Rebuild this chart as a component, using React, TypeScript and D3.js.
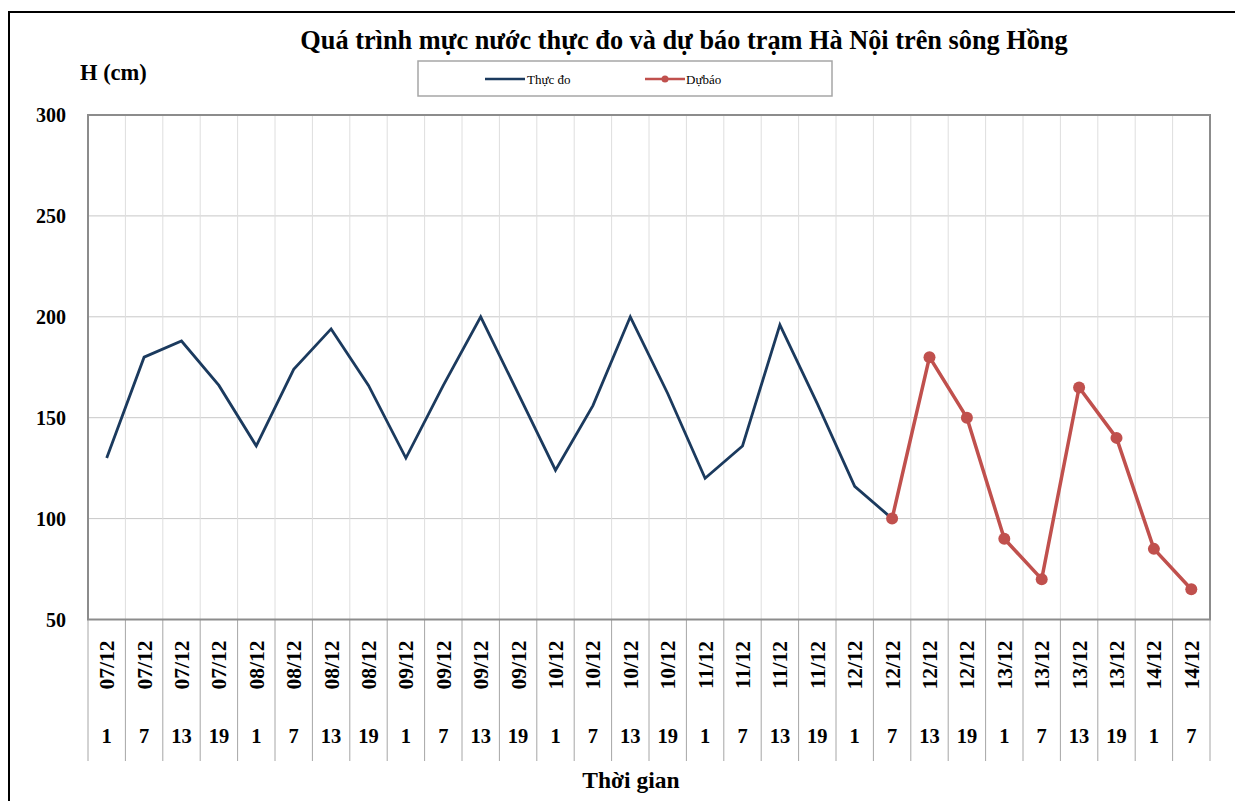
import React from "react";
import * as d3 from "d3";

const days = ["07/12","07/12","07/12","07/12","08/12","08/12","08/12","08/12","09/12","09/12","09/12","09/12","10/12","10/12","10/12","10/12","11/12","11/12","11/12","11/12","12/12","12/12","12/12","12/12","13/12","13/12","13/12","13/12","14/12","14/12"];
const hours = ["1","7","13","19","1","7","13","19","1","7","13","19","1","7","13","19","1","7","13","19","1","7","13","19","1","7","13","19","1","7"];
const observed: (number | null)[] = [130,180,188,166,136,174,194,166,130,166,200,162,124,156,200,162,120,136,196,157,116,100,null,null,null,null,null,null,null,null];
const forecast: (number | null)[] = [null,null,null,null,null,null,null,null,null,null,null,null,null,null,null,null,null,null,null,null,null,100,180,150,90,70,165,140,85,65];
const yTicks = [50,100,150,200,250,300];

const W = 1235, H = 801;
const L = 88, R = 1210, T = 115, B = 619.5;
const FONT = "'Liberation Serif', 'Times New Roman', serif";

export default function App() {
  const n = days.length;
  const x = d3.scaleBand<number>().domain(d3.range(n)).range([L, R]).padding(0);
  const y = d3.scaleLinear().domain([50, 300]).range([B, T]);
  const cx = (i: number) => (x(i) as number) + x.bandwidth() / 2;
  const line = d3.line<number | null>().defined(d => d != null).x((_, i) => cx(i)).y(d => y(d as number));
  return (
    <svg width={W} height={H} style={{ position: "absolute", left: 0, top: 0, display: "block" }}>
      <rect x={0} y={0} width={W} height={H} fill="#fff" />
      <rect x={9} y={12} width={W + 10} height={H + 10} fill="#fff" stroke="#000" strokeWidth={2} />
      {yTicks.filter(t => t > 50 && t < 300).map(t => (
        <line key={"h" + t} x1={L} x2={R} y1={y(t)} y2={y(t)} stroke="#c8c8c8" strokeWidth={1} />
      ))}
      {d3.range(1, n).map(i => (
        <line key={"v" + i} x1={x(i) as number} x2={x(i) as number} y1={T} y2={B} stroke="#dedede" strokeWidth={1} />
      ))}
      {d3.range(0, n + 1).map(i => {
        const xx = i < n ? (x(i) as number) : R;
        return <line key={"s" + i} x1={xx} x2={xx} y1={B} y2={761} stroke="#a6a6a6" strokeWidth={1} />;
      })}
      <rect x={L} y={T} width={R - L} height={B - T} fill="none" stroke="#8c8c8c" strokeWidth={2} />
      {yTicks.map(t => (
        <text key={"y" + t} x={66} y={y(t)} dy="0.35em" textAnchor="end" fontFamily={FONT} fontWeight="bold" fontSize={20}>{t}</text>
      ))}
      {days.map((d, i) => (
        <text key={"d" + i} transform={`translate(${cx(i)},${665}) rotate(-90)`} textAnchor="middle" dy="0.35em" fontFamily={FONT} fontWeight="bold" fontSize={21.5}>{d}</text>
      ))}
      {hours.map((h, i) => (
        <text key={"hr" + i} x={cx(i)} y={736} dy="0.35em" textAnchor="middle" fontFamily={FONT} fontWeight="bold" fontSize={20.5}>{h}</text>
      ))}
      <path d={line(observed) || ""} fill="none" stroke="#1B3A5E" strokeWidth={2.8} />
      <path d={line(forecast) || ""} fill="none" stroke="#C0504D" strokeWidth={3.5} />
      {forecast.map((v, i) => v == null ? null : (
        <circle key={"c" + i} cx={cx(i)} cy={y(v)} r={6} fill="#C0504D" />
      ))}
      <text x={684} y={49} textAnchor="middle" fontFamily={FONT} fontWeight="bold" fontSize={26.3}>Quá trình mực nước thực đo và dự báo trạm Hà Nội trên sông Hồng</text>
      <text x={80} y={80} fontFamily={FONT} fontWeight="bold" fontSize={22.5}>H (cm)</text>
      <text x={631} y={788} textAnchor="middle" fontFamily={FONT} fontWeight="bold" fontSize={23.5}>Thời gian</text>
      <rect x={418} y={61} width={414} height={35} fill="#fff" stroke="#a6a6a6" strokeWidth={1.5} />
      <line x1={485} x2={525} y1={79} y2={79} stroke="#1B3A5E" strokeWidth={2.5} />
      <text x={527} y={79} dy="0.35em" fontFamily={FONT} fontSize={13}>Thực đo</text>
      <line x1={645} x2={685} y1={79} y2={79} stroke="#C0504D" strokeWidth={2.5} />
      <circle cx={665} cy={79} r={3.5} fill="#C0504D" />
      <text x={686} y={79} dy="0.35em" fontFamily={FONT} fontSize={13}>Dựbáo</text>
    </svg>
  );
}
